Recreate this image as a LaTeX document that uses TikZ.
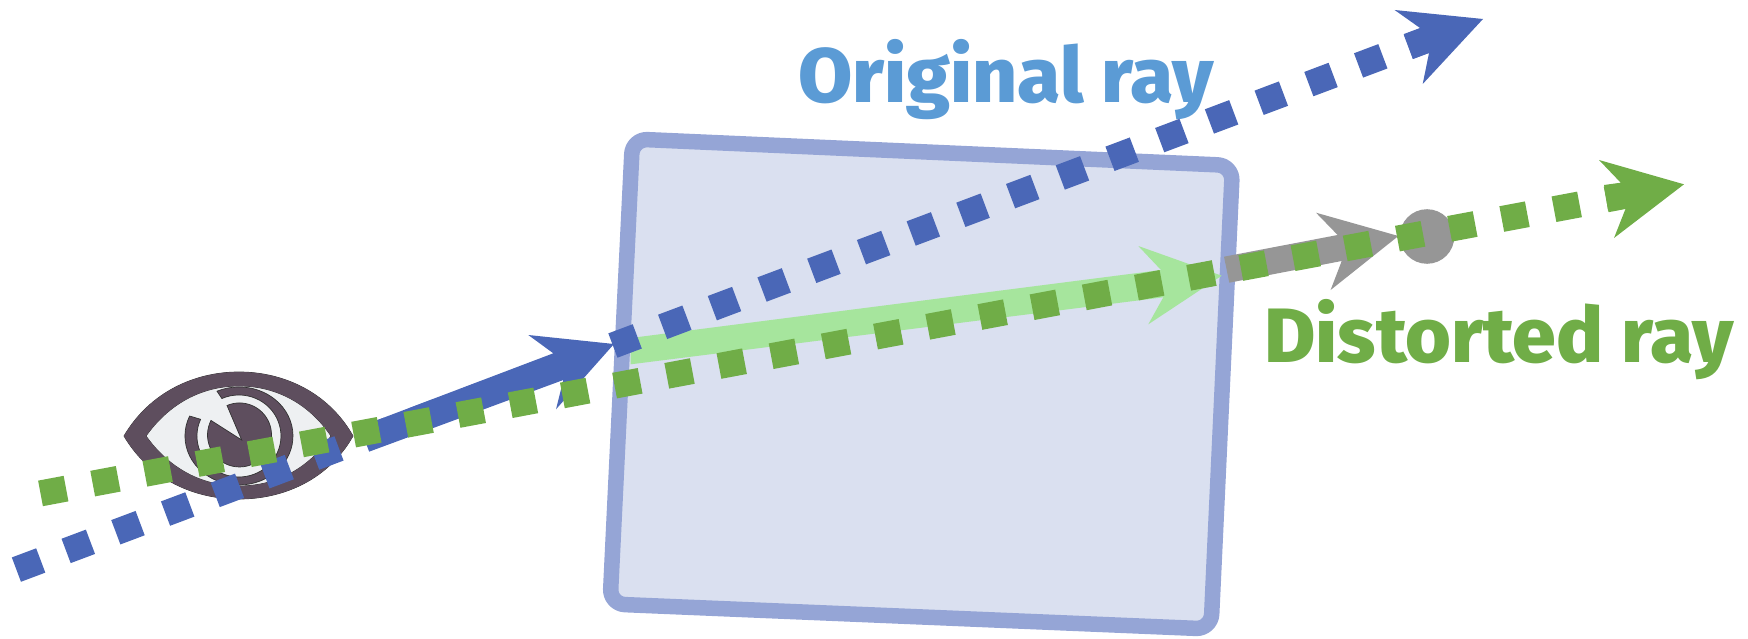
\documentclass[tikz,border=0pt]{standalone}
\usepackage{fontspec}
\setmainfont{Fira Sans}[BoldFont={Fira Sans ExtraBold}]
\definecolor{rayblue}{HTML}{4A67B7}
\definecolor{raygreen}{HTML}{70AD47}
\definecolor{lblblue}{HTML}{5B9BD5}
\definecolor{lightgr}{HTML}{A6E59D}
\definecolor{raygray}{HTML}{969696}
\definecolor{boxfill}{HTML}{DAE0F0}
\definecolor{boxline}{HTML}{95A5D6}
\definecolor{eyedark}{HTML}{5E4E5E}
\definecolor{eyewhite}{HTML}{EEF0F2}
\tikzset{
 dashray/.style={line width=26pt,dash pattern=on 26pt off 27.1pt},
 lbl/.style={inner sep=0pt,anchor=base west,font=\fontsize{77}{77}\selectfont\bfseries},
 eyeline/.style={draw=black!80,line width=.7pt},
}
\begin{document}
\begin{tikzpicture}[x=1pt,y=-1pt]
\useasboundingbox (0,0) rectangle (1748,639);
% named ends
\coordinate (bs) at (16.4,569.6);
\coordinate (be) at (1432.9,37.5);
\coordinate (gs) at (40.5,493.4);
\coordinate (ge) at (1631.8,194.6);
% box
\draw[fill=boxfill,draw=boxline,line width=15.5pt,rounded corners=15pt,line join=round]
 (632.5,139) -- (1232.5,165.5) -- (1211,629) -- (610,604) -- cycle;
% light green
\fill[lightgr] (630.7,338) -- (1161,270) -- (1138.3,246) -- (1221.7,275.7) -- (1148.3,324.3) -- (1163.3,297.3) -- (630.7,364.3) -- cycle;
% blue arrow
\fill[rayblue] (369,451.7) -- (377.5,420) -- (553.3,353.3) -- (528.3,335) -- (614,344) -- (556,409.3) -- (563.3,380) -- cycle;
% gray
\fill[raygray] (1427,236.5) circle[radius=27.3];
\fill[raygray] (1224,256.7) -- (1337.6,235) -- (1316,212.7) -- (1398.4,236) -- (1330.6,290) -- (1341.7,261) -- (1229.3,282.7) -- cycle;
% eye
\def\eyeouter{(124,436) .. controls (150,392) and (195,372) .. (239,372) .. controls (283,372) and (328,392) .. (353,436) .. controls (328,480) and (283,499) .. (239,499) .. controls (195,499) and (150,480) .. cycle}
\def\eyeinner{(146,436) .. controls (168,405) and (200,386) .. (239,386) .. controls (278,386) and (310,405) .. (331,436) .. controls (310,467) and (278,486) .. (239,486) .. controls (200,486) and (168,467) .. cycle}
\draw[eyeline,fill=eyedark] \eyeouter;
\draw[eyeline,fill=eyewhite] \eyeinner;
% ring, open over the upper left
\draw[eyeline,fill=eyedark] (217,391.2) arc[start angle=-114,end angle=204,x radius=54,y radius=49]
 -- (200.6,419.3) arc[start angle=204,end angle=-114,x radius=42,y radius=41] -- cycle;
% pupil with wedge
\draw[eyeline,fill=eyedark] (241.7,440) -- (227,405.5) arc[start angle=-113,end angle=207,radius=32] -- cycle;
\fill[eyedark,even odd rule] \eyeouter \eyeinner;
% labels
\node[lbl,text=lblblue] (orig) at (798,102.6) {\scalebox{1.02}[1]{Original ray}};
\node[lbl,text=raygreen] (dist) at (1264,362) {\scalebox{1.02}[1]{Distorted ray}};
% heads
\fill[rayblue] (1483,19) -- (1394.6,10) -- (1420,28) -- (1404,34) -- (1413,59) -- (1429,53) -- (1422.7,84) -- cycle;
\fill[raygreen] (1684,184.3) -- (1599,160) -- (1620.7,182.7) -- (1604,185) -- (1608,210.5) -- (1626,207.6) -- (1614,238) -- cycle;
% dashed rays
\draw[rayblue,dashray] (bs) -- (be);
\draw[raygreen,dashray] (gs) -- (ge);
\end{tikzpicture}
\end{document}
